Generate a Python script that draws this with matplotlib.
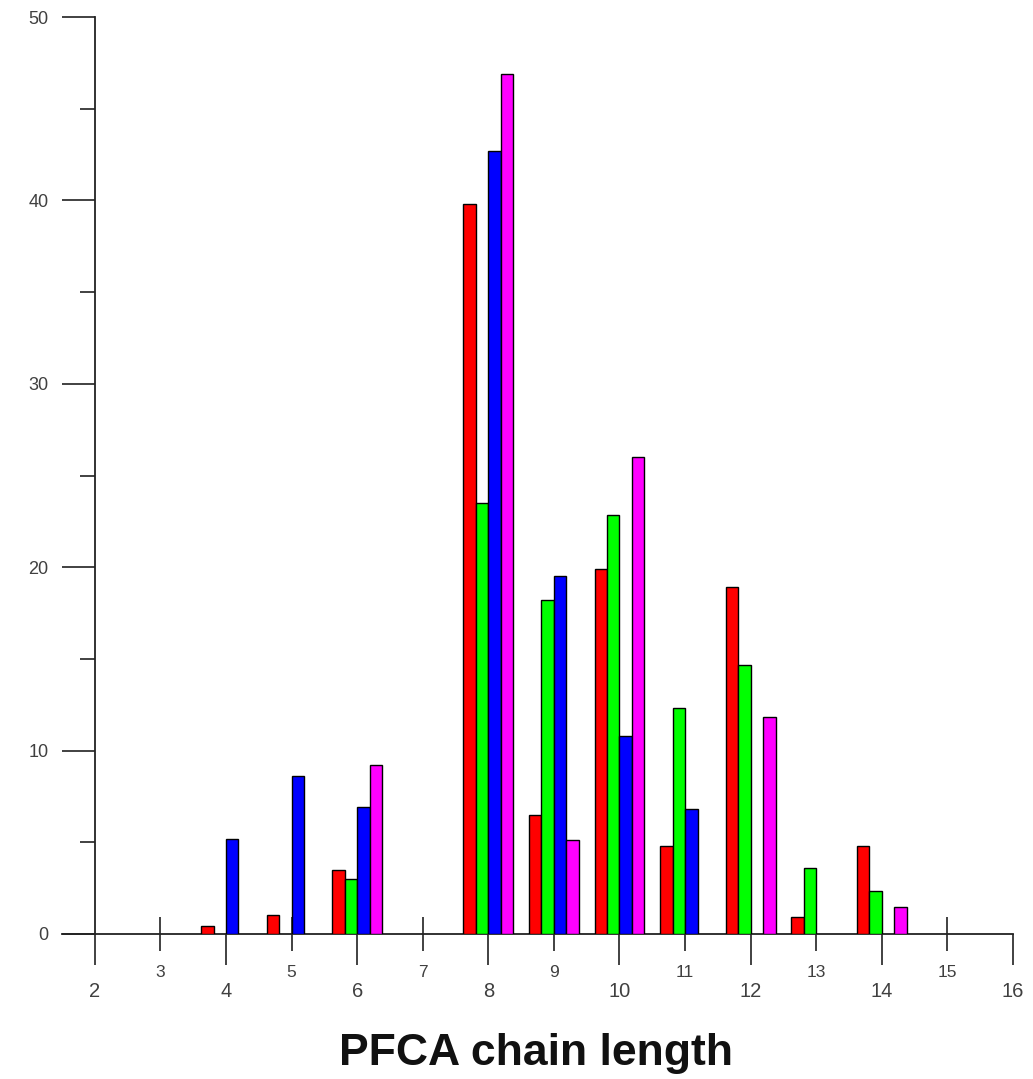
import numpy as np
import matplotlib
matplotlib.use('Agg')
import matplotlib.pyplot as plt
from matplotlib.ticker import MultipleLocator, FixedLocator

plt.rcParams['font.family'] = ['Liberation Sans', 'DejaVu Sans']

chain = [4, 5, 6, 7, 8, 9, 10, 11, 12, 13, 14]
red = [0.45, 1.05, 3.5, 0, 39.8, 6.5, 19.9, 4.8, 18.9, 0.95, 4.8]
green = [0, 0, 3.0, 0, 23.5, 18.2, 22.85, 12.35, 14.65, 3.6, 2.35]
blue = [5.2, 8.6, 6.9, 0, 42.7, 19.5, 10.8, 6.8, 0, 0, 0]
magenta = [0, 0, 9.2, 0, 46.9, 5.1, 26.0, 0, 11.85, 0, 1.45]

series = [red, green, blue, magenta]
colors = ['#ff0000', '#00ff00', '#0000ff', '#ff00ff']

fig = plt.figure(figsize=(10.33, 10.79), dpi=100)
ax = fig.add_axes([62 / 1033, 1 - 934 / 1079, (1013 - 62) / 1033, (934 - 17) / 1079])

w = 0.19
x = np.array(chain, dtype=float)
for i, (vals, c) in enumerate(zip(series, colors)):
    v = np.array(vals)
    m = v > 0
    ax.bar(x[m] + (i - 1.5) * w, v[m], width=w, color=c,
           edgecolor='black', linewidth=1.0, zorder=3)

ax.set_xlim(1.5, 16)
ax.set_ylim(0, 50)

for s in ['top', 'right']:
    ax.spines[s].set_visible(False)
ax.spines['left'].set_position(('data', 2))
ax.spines['left'].set_bounds(0, 50)
for s in ['left', 'bottom']:
    ax.spines[s].set_linewidth(1.3)
    ax.spines[s].set_color('#222222')

# y axis
ax.yaxis.set_major_locator(MultipleLocator(10))
ax.yaxis.set_minor_locator(MultipleLocator(5))
ax.tick_params(axis='y', which='major', direction='out', length=23.5, width=1.3,
               color='#333333', labelsize=13, labelcolor='#404040', pad=10)
ax.tick_params(axis='y', which='minor', direction='out', length=11, width=1.3,
               color='#333333')

# x axis: even numbers major, odd minor
ax.xaxis.set_major_locator(FixedLocator([2, 4, 6, 8, 10, 12, 14, 16]))
ax.xaxis.set_minor_locator(FixedLocator([3, 5, 7, 9, 11, 13, 15]))
ax.xaxis.set_minor_formatter(plt.FuncFormatter(lambda v, p: '%d' % v))
ax.tick_params(axis='x', which='major', direction='out', length=22.5, width=1.3,
               color='#333333', labelsize=14.5, labelcolor='#404040', pad=12)
ax.tick_params(axis='x', which='minor', direction='inout', length=24, width=1.3,
               color='#333333', labelsize=12.5, labelcolor='#404040', pad=10.5)

fig.text(536 / 1033, 1 - 1053 / 1079, 'PFCA chain length', ha='center', va='center',
         fontsize=32, fontweight='bold', color='#111111')

plt.savefig('out.png', dpi=100)
